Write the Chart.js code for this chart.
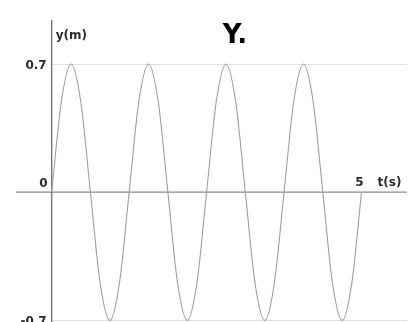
<!doctype html>
<html>
<head>
    <title>Y</title>
    <meta charset="UTF-8">
    <script src="https://cdn.jsdelivr.net/npm/chart.js@4.4.1/dist/chart.umd.min.js"></script>
    <style>
        html, body {
            margin: 0;
            padding: 0;
            background: #ffffff;
            overflow: hidden;
        }
        canvas {
            display: block;
        }
    </style>
</head>
<body>
<canvas id="wave" width="415" height="330"></canvas>
<script>
    // displacement y(m) against time t(s), period 1.25 s, amplitude 0.7 m
    var tValues = [0, 0.156, 0.313, 0.469, 0.625, 0.781, 0.938, 1.094,
        1.25, 1.406, 1.563, 1.719, 1.875, 2.031, 2.188, 2.344,
        2.5, 2.656, 2.813, 2.969, 3.125, 3.281, 3.438, 3.594,
        3.75, 3.906, 4.063, 4.219, 4.375, 4.531, 4.688, 4.844, 5];
    var yValues = [0, 0.495, 0.7, 0.495, 0, -0.495, -0.7, -0.495,
        0, 0.495, 0.7, 0.495, 0, -0.495, -0.7, -0.495,
        0, 0.495, 0.7, 0.495, 0, -0.495, -0.7, -0.495,
        0, 0.495, 0.7, 0.495, 0, -0.495, -0.7, -0.495, 0];

    var yTicks = [0.7, 0, -0.7];
    var tTicks = [5];
    var chartTitle = 'Y.';
    var yAxisName = 'y(m)';
    var tAxisName = 't(s)';

    var points = [];
    for (var i = 0; i < tValues.length; i++) {
        points.push({x: tValues[i], y: yValues[i]});
    }

    // axes through the origin, light lines at +-amplitude, labels by hand
    var axesPlugin = {
        id: 'originAxes',
        beforeDatasetsDraw: function (chart) {
            var ctx = chart.ctx;
            var xs = chart.scales.x;
            var ys = chart.scales.y;
            var area = chart.chartArea;
            var x0 = xs.getPixelForValue(0);
            var y0 = ys.getPixelForValue(0);
            ctx.save();
            // amplitude lines
            ctx.strokeStyle = '#e2e2e2';
            ctx.lineWidth = 1;
            [0.7, -0.7].forEach(function (v) {
                var yp = Math.round(ys.getPixelForValue(v)) + 0.5;
                ctx.beginPath();
                ctx.moveTo(x0, yp);
                ctx.lineTo(area.right, yp);
                ctx.stroke();
            });
            // t axis
            ctx.strokeStyle = '#8a8a8a';
            ctx.lineWidth = 1.3;
            ctx.beginPath();
            ctx.moveTo(area.left, y0);
            ctx.lineTo(area.right, y0);
            ctx.stroke();
            // y axis
            ctx.strokeStyle = '#6f6f6f';
            ctx.beginPath();
            ctx.moveTo(x0, area.top);
            ctx.lineTo(x0, chart.height);
            ctx.stroke();
            ctx.restore();
        },
        afterDraw: function (chart) {
            var ctx = chart.ctx;
            var xs = chart.scales.x;
            var ys = chart.scales.y;
            var x0 = xs.getPixelForValue(0);
            var y0 = ys.getPixelForValue(0);
            ctx.save();
            ctx.fillStyle = '#2b2b2b';
            ctx.font = 'bold 12px "DejaVu Sans", sans-serif';
            ctx.textBaseline = 'middle';

            ctx.textAlign = 'right';
            yTicks.forEach(function (v) {
                var yp = ys.getPixelForValue(v);
                if (v === 0) {
                    ctx.fillText('0', x0 - 4, y0 - 8);
                } else {
                    ctx.fillText(String(v), x0 - 5, yp + 2);
                }
            });

            ctx.textAlign = 'center';
            tTicks.forEach(function (v) {
                ctx.fillText(String(v), xs.getPixelForValue(v) - 2, y0 - 9);
            });

            ctx.textAlign = 'left';
            ctx.fillText(tAxisName, xs.getPixelForValue(5) + 16, y0 - 9);
            ctx.fillText(yAxisName, x0 + 4, 36);

            // title
            ctx.fillStyle = '#000000';
            ctx.font = 'bold 26px "DejaVu Sans", sans-serif';
            ctx.textAlign = 'center';
            ctx.fillText(chartTitle, 235, 36);
            ctx.restore();
        }
    };

    var config = {
        type: 'line',
        data: {
            datasets: [
                {
                    label: 'y',
                    data: points,
                    borderColor: '#9c9cb8',
                    borderWidth: 1.1,
                    pointRadius: 0,
                    fill: false,
                    cubicInterpolationMode: 'monotone',
                    clip: false
                }
            ]
        },
        options: {
            responsive: false,
            animation: false,
            layout: {
                padding: {left: 16, right: 8, top: 20, bottom: 6}
            },
            plugins: {
                legend: {display: false},
                title: {display: false},
                tooltip: {enabled: false}
            },
            scales: {
                x: {
                    type: 'linear',
                    display: false,
                    min: -0.576,
                    max: 5.734
                },
                y: {
                    type: 'linear',
                    display: false,
                    min: -0.72,
                    max: 0.94
                }
            }
        },
        plugins: [axesPlugin]
    };

    var ctx = document.getElementById('wave').getContext('2d');
    window.waveChart = new Chart(ctx, config);
</script>
</body>
</html>
